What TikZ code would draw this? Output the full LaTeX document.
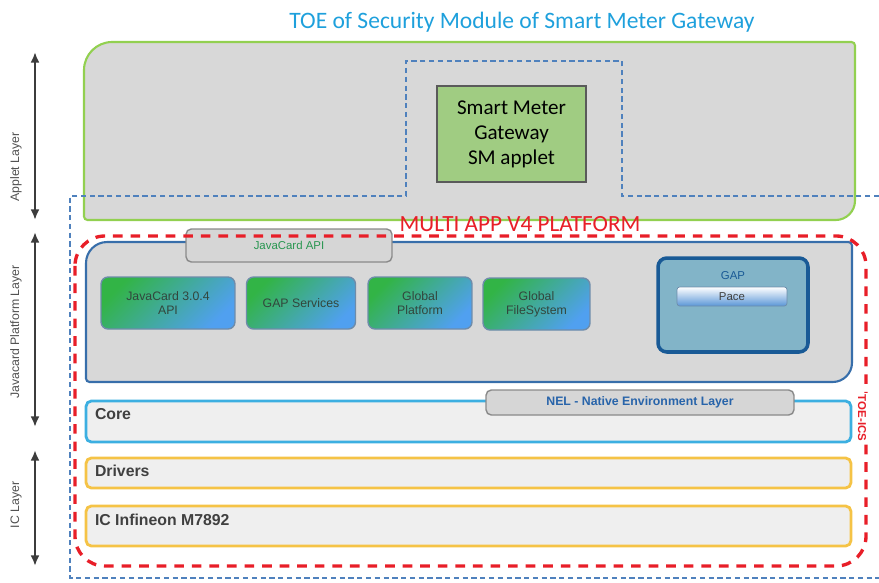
\documentclass[tikz,border=0pt]{standalone}
\usepackage{fontspec}
\setmainfont{Carlito}
\newfontfamily\arialfont{Liberation Sans}
\usepackage{xcolor}
\usetikzlibrary{arrows.meta, positioning, calc}
\definecolor{smg_title}{RGB}{30, 160, 220}
\definecolor{smg_applet}{RGB}{146, 208, 80}
\definecolor{smg_gray}{RGB}{216, 216, 216}
\definecolor{smg_toe}{RGB}{79, 129, 189}
\definecolor{smg_smfill}{RGB}{160, 204, 130}
\definecolor{smg_smline}{RGB}{90, 90, 90}
\definecolor{smg_red}{RGB}{232, 30, 40}
\definecolor{smg_plat}{RGB}{55, 110, 170}
\definecolor{smg_tab}{RGB}{214, 214, 214}
\definecolor{smg_tabline}{RGB}{138, 138, 138}
\definecolor{smg_apigreen}{RGB}{40, 150, 80}
\definecolor{smg_modgreen}{RGB}{50, 180, 70}
\definecolor{smg_modblue}{RGB}{80, 160, 240}
\definecolor{smg_modline}{RGB}{110, 140, 170}
\definecolor{smg_modtext}{RGB}{50, 70, 60}
\definecolor{smg_gapfill}{RGB}{130, 180, 200}
\definecolor{smg_gapline}{RGB}{25, 90, 150}
\definecolor{smg_pace}{RGB}{90, 150, 215}
\definecolor{smg_core}{RGB}{60, 175, 225}
\definecolor{smg_panel}{RGB}{239, 239, 239}
\definecolor{smg_amber}{RGB}{245, 195, 70}
\definecolor{smg_nel}{RGB}{40, 100, 170}
\definecolor{smg_band}{RGB}{64, 64, 64}
\definecolor{smg_arrow}{RGB}{60, 60, 60}
\definecolor{smg_label}{RGB}{80, 80, 80}

\begin{document}
\begin{tikzpicture}[x=0.02cm, y=-0.02cm,
    every node/.style={inner sep=0pt, outer sep=0pt},
    layerarrow/.style={draw=smg_arrow, line width=1.3pt, {Latex[length=6pt,width=5pt]}-{Latex[length=6pt,width=5pt]}},
    layerlabel/.style={rotate=90, font=\arialfont\fontsize{7}{8}\selectfont, text=smg_label},
    tab/.style={draw=smg_tabline, fill=smg_tab, rounded corners=3pt, line width=0.8pt},
    module/.style={draw=smg_modline, rounded corners=4pt, top color=smg_modgreen, bottom color=smg_modblue, shading angle=45, align=center, font=\arialfont\fontsize{7}{8}\selectfont, text=smg_modtext, line width=0.8pt, minimum height=1.04cm},
    band/.style={fill=smg_panel, rounded corners=3pt, line width=1.6pt, minimum width=15.3cm},
    bandtext/.style={font=\arialfont\bfseries\fontsize{9}{10}\selectfont, text=smg_band, anchor=west},
    toeline/.style={draw=smg_toe, line width=1.2pt, dash pattern=on 3pt off 2pt},
    toeics/.style={draw=smg_red, line width=1.9pt, dash pattern=on 5.5pt off 4.5pt, rounded corners=17pt},
  ]
  \useasboundingbox (0,0) rectangle (879,582);

  \node[font=\fontsize{13.4}{15}\selectfont, text=smg_title] (title) at (522,22) {TOE of Security Module of Smart Meter Gateway};

  \draw[draw=smg_applet, fill=smg_gray, line width=1.2pt]
    (84,130) [rounded corners=16pt] -- (84,42) [rounded corners=2pt] -- (855,42) -- (855,130)
    [rounded corners=11pt] -- (855,220) [rounded corners=2pt] -- (84,220) -- cycle;
  \draw[toeline] (879,196) -- (622,196) -- (622,61) -- (406,61) -- (406,196) -- (70,196) -- (70,578) -- (879,578);
  \node[draw=smg_smline, fill=smg_smfill, line width=1pt, minimum width=2.98cm, minimum height=1.92cm, align=center, font=\fontsize{12}{14.2}\selectfont] (smapplet) at (511.5,134) {Smart Meter\\Gateway\\SM applet};

  \node[font=\fontsize{13.2}{15}\selectfont, text=smg_red] (multiapp) at (520,224) {MULTI APP V4 PLATFORM};

  \draw[draw=smg_plat, fill=smg_gray, line width=1.2pt]
    (86,300) [rounded corners=12pt] -- (86,242) [rounded corners=2pt] -- (852,242) -- (852,300)
    [rounded corners=11pt] -- (852,382) [rounded corners=2pt] -- (86,382) -- cycle;
  \node[tab, minimum width=4.12cm, minimum height=0.66cm, font=\arialfont\fontsize{6.5}{7}\selectfont, text=smg_apigreen] (jcapi) at (289,245.5) {JavaCard API};

  \node[module, minimum width=2.68cm] (jcard) at (168,303) {JavaCard 3.0.4\\API};
  \node[module, minimum width=2.18cm] (gapsvc) at (301,303) {GAP Services};
  \node[module, minimum width=2.08cm] (gplat) at (420,303) {Global\\Platform};
  \node[module, minimum width=2.14cm] (gfs) at (536.5,304) {Global\\FileSystem};

  \node[draw=smg_gapline, fill=smg_gapfill, line width=2pt, rounded corners=5pt, minimum width=3.0cm, minimum height=1.88cm] (gap) at (733,305) {};
  \node[font=\arialfont\fontsize{6.5}{7}\selectfont, text=smg_gapline] (gaptext) at (733,276) {GAP};
  \node[draw=smg_modline, top color=white, bottom color=smg_pace, rounded corners=1.5pt, minimum width=2.2cm, minimum height=0.38cm, font=\arialfont\fontsize{6.5}{7}\selectfont, text=smg_band] (pace) at (732,296.5) {Pace};

  \node[band, draw=smg_core, minimum height=0.82cm] (core) at (468.5,421.5) {};
  \node[bandtext] (coretext) at (95,414) {Core};
  \node[tab, minimum width=6.16cm, minimum height=0.5cm, font=\arialfont\bfseries\fontsize{7}{8}\selectfont, text=smg_nel] (nel) at (640,402.5) {NEL - Native Environment Layer};
  \node[band, draw=smg_amber, minimum height=0.6cm] (drivers) at (468.5,473) {};
  \node[bandtext] (driverstext) at (95,471) {Drivers};
  \node[band, draw=smg_amber, minimum height=0.8cm] (icchip) at (468.5,526) {};
  \node[bandtext] (ictext) at (95,520) {IC Infineon M7892};

  \draw[toeics] (75,236) rectangle (866,566);
  \node[rotate=-90, fill=white, inner sep=1pt, font=\arialfont\bfseries\fontsize{6.5}{7}\selectfont, text=smg_red] (toeics) at (862,418) {TOE-ICS};

  \coordinate (appTop) at (35,52);
  \coordinate (appBot) at (35,220);
  \coordinate (jcTop) at (35,232);
  \coordinate (jcBot) at (35,427);
  \coordinate (icTop) at (35,450);
  \coordinate (icBot) at (35,566);
  \draw[layerarrow] (appTop) -- (appBot);
  \draw[layerarrow] (jcTop) -- (jcBot);
  \draw[layerarrow] (icTop) -- (icBot);
  \node[layerlabel] (applab) at (16,167) {Applet Layer};
  \node[layerlabel] (jclab) at (16,332) {Javacard Platform Layer};
  \node[layerlabel] (iclab) at (16,505) {IC Layer};
\end{tikzpicture}
\end{document}
